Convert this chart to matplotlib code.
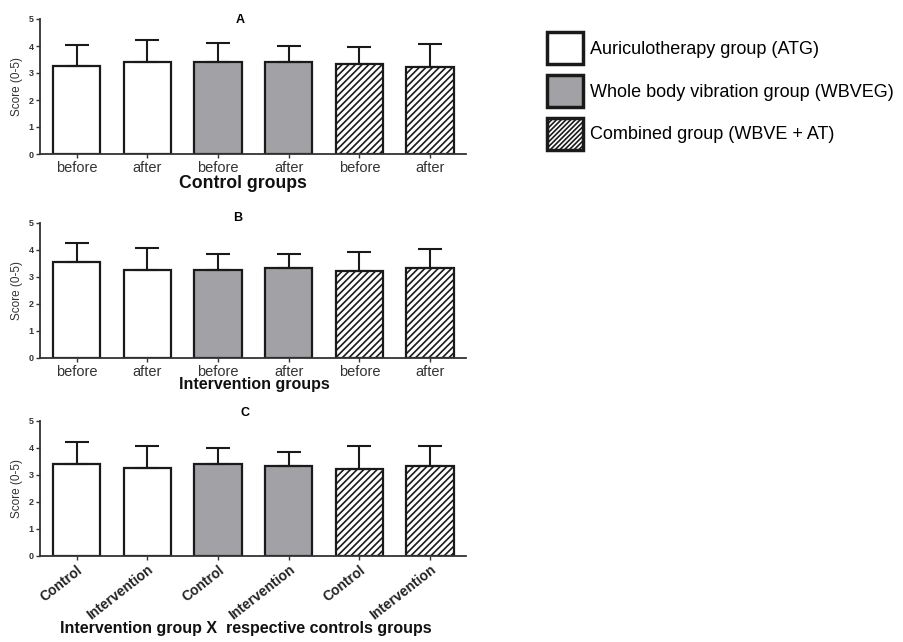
import matplotlib
matplotlib.use("Agg")
import matplotlib.pyplot as plt
from matplotlib.patches import Patch
import numpy as np

plt.rcParams['font.family'] = ['Liberation Sans', 'DejaVu Sans']
plt.rcParams['hatch.linewidth'] = 1.2

# data (mean and upper SD)
means_a = [3.27, 3.42, 3.41, 3.41, 3.32, 3.23]
sd_a = [0.77, 0.79, 0.71, 0.59, 0.65, 0.86]
means_b = [3.54, 3.25, 3.25, 3.34, 3.22, 3.32]
sd_b = [0.70, 0.80, 0.60, 0.51, 0.68, 0.72]
means_c = [3.41, 3.26, 3.38, 3.33, 3.22, 3.33]
sd_c = [0.79, 0.80, 0.61, 0.52, 0.84, 0.73]

labels_ab = ["before", "after", "before", "after", "before", "after"]
labels_c = ["Control", "Intervention", "Control", "Intervention", "Control", "Intervention"]
group_names = ["Auriculotherapy group (ATG)", "Whole body vibration group (WBVEG)",
               "Combined group (WBVE + AT)"]

GRAY = "#a2a2a6"
EDGE = "#1a1a1a"
faces = ["white", "white", GRAY, GRAY, "white", "white"]
hatches = ["", "", "", "", "/////", "/////"]

fig = plt.figure(figsize=(9.04, 6.42), dpi=100)
W, H = 904, 642

def make_axes(top, bottom):
    return fig.add_axes([40 / W, 1 - bottom / H, 426 / W, (bottom - top) / H])

def draw_panel(ax, means, sd, labels, rotate=False):
    x = np.arange(len(means))
    ax.bar(x, means, width=0.67, color=faces, edgecolor=EDGE, linewidth=1.6,
           hatch=hatches, zorder=2)
    ax.errorbar(x, means, yerr=[np.zeros(len(sd)), sd], fmt="none", ecolor=EDGE,
                elinewidth=1.5, capsize=8.3, capthick=1.5, zorder=3)
    ax.set_xlim(-0.52, 5.51)
    ax.set_ylim(0, 5)
    ax.set_yticks(range(6))
    ax.set_xticks(x)
    for s in ["top", "right"]:
        ax.spines[s].set_visible(False)
    for s in ["left", "bottom"]:
        ax.spines[s].set_color("#333333")
        ax.spines[s].set_linewidth(1.3)
    ax.tick_params(axis="y", length=3, width=1, colors="#333333", labelsize=6.5, pad=1.5)
    ax.tick_params(axis="x", length=3, width=1, colors="#333333", pad=2)
    for t in ax.get_yticklabels():
        t.set_fontweight("bold")
    if rotate:
        ax.set_xticklabels(labels, rotation=38, ha="right", va="top",
                           rotation_mode="anchor", fontsize=10, fontweight="bold",
                           color="#222222")
    else:
        ax.set_xticklabels(labels, fontsize=10.5, color="#333333")
    ax.set_ylabel("Score (0-5)", fontsize=8.5, color="#333333", labelpad=4)

ax_a = make_axes(19, 154)
draw_panel(ax_a, means_a, sd_a, labels_ab)
ax_b = make_axes(222.7, 358)
draw_panel(ax_b, means_b, sd_b, labels_ab)
ax_c = make_axes(420.7, 555.7)
draw_panel(ax_c, means_c, sd_c, labels_c, rotate=True)

fig.text(240 / W, 1 - 20 / H, "A", fontsize=9, fontweight="bold", ha="center", va="center")
fig.text(238 / W, 1 - 218 / H, "B", fontsize=9, fontweight="bold", ha="center", va="center")
fig.text(245 / W, 1 - 413 / H, "C", fontsize=9, fontweight="bold", ha="center", va="center")

fig.text(243 / W, 1 - 183 / H, "Control groups", fontsize=12.7, fontweight="bold",
         ha="center", va="center", color="#111111")
fig.text(254 / W, 1 - 385 / H, "Intervention groups", fontsize=11.5, fontweight="bold",
         ha="center", va="center", color="#111111")
fig.text(246 / W, 1 - 629 / H, "Intervention group X  respective controls groups",
         fontsize=11.5, fontweight="bold", ha="center", va="center", color="#111111")

handles = [
    Patch(facecolor="white", edgecolor=EDGE, linewidth=2.5),
    Patch(facecolor=GRAY, edgecolor=EDGE, linewidth=2.5),
    Patch(facecolor="white", edgecolor=EDGE, linewidth=2.5, hatch="///////"),
]
fig.legend(handles, group_names, loc="upper left", bbox_to_anchor=(540 / W, 1 - 25 / H),
           frameon=False, fontsize=13, handlelength=2.0, handleheight=2.35,
           labelspacing=0.6, handletextpad=0.35, borderaxespad=0)

fig.savefig("out.png", dpi=100)
